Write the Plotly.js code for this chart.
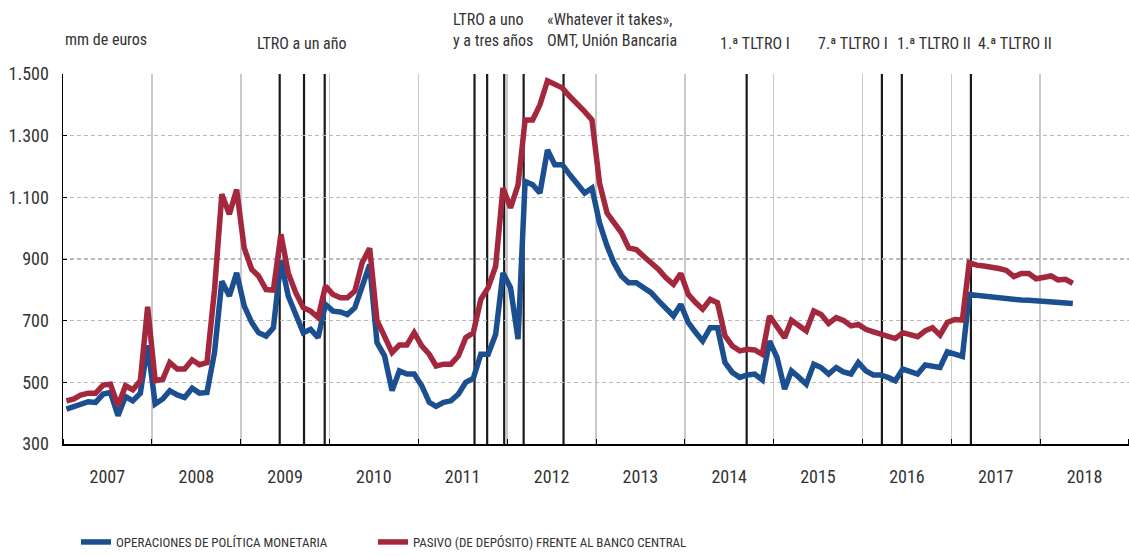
<!DOCTYPE html>
<html>
<head>
<meta charset="utf-8">
<script src="https://cdn.plot.ly/plotly-3.0.1.min.js"></script>
<style>html,body{margin:0;padding:0;background:#fff;}#chart{width:1129px;height:557px;}</style>
</head>
<body>
<div id="chart"></div>
<script>
// Monthly data, January 2007 – May 2018 (mm de euros)
const startYear = 2007;
const nMonths = 137;
const years = [2007, 2008, 2009, 2010, 2011, 2012, 2013, 2014, 2015, 2016, 2017, 2018];

const operacionesPolitica = [
  413, 422, 432, 437, 435, 462, 467, 392, 454, 440, 465, 620,
  430, 446, 473, 459, 451, 481, 465, 467, 597, 828, 780, 855,
  748, 694, 661, 650, 677, 895, 780, 715, 661, 672, 645, 753,
  731, 728, 720, 742, 812, 882, 629, 586, 473, 537, 527, 527,
  489, 435, 422, 435, 440, 462, 500, 513, 591, 591, 656, 855,
  807, 640, 1152, 1141, 1114, 1254, 1206, 1206, 1173, 1141, 1114, 1130,
  1017, 942, 888, 845, 823, 823, 807, 791, 764, 737, 715, 753,
  694, 661, 634, 677, 677, 564, 532, 516, 524, 527, 508, 634,
  580, 478, 537, 516, 494, 559, 548, 527, 548, 534, 527, 564,
  537, 524, 524, 516, 505, 543, 534, 527, 556, 554, 548, 599,
  591, 584, 785, 782, 780, 778, 776, 771, 767, 767, 766, 764,
  761, 760, 760, 758, 756
];

const pasivoDeposito = [
  440, 446, 459, 465, 465, 491, 494, 424, 489, 476, 505, 745,
  505, 510, 564, 543, 543, 573, 557, 564, 800, 1110, 1045, 1125,
  936, 866, 845, 801, 799, 980, 855, 791, 742, 731, 710, 812,
  785, 774, 774, 796, 888, 935, 701, 651, 597, 621, 621, 661,
  618, 591, 553, 559, 559, 586, 645, 661, 769, 807, 877, 1130,
  1066, 1140, 1351, 1351, 1400, 1478, 1465, 1455, 1427, 1405, 1378, 1351,
  1146, 1049, 1017, 985, 936, 931, 909, 888, 866, 839, 818, 853,
  785, 758, 737, 769, 758, 651, 618, 602, 607, 605, 591, 715,
  683, 645, 701, 683, 667, 731, 720, 691, 710, 701, 683, 688,
  672, 664, 656, 651, 642, 661, 656, 648, 667, 677, 653, 694,
  704, 702, 888, 880, 877, 874, 869, 863, 843, 853, 853, 836,
  839, 845, 832, 834, 821
];

const eventDates = [
  '2009-06-10', '2009-09-18', '2009-12-12',
  '2011-08-20', '2011-10-11', '2011-12-20', '2012-03-09',
  '2012-08-20',
  '2014-09-12',
  '2016-03-21', '2016-06-11', '2017-03-22'
];

const seriesNames = ['OPERACIONES DE POLÍTICA MONETARIA', 'PASIVO (DE DEPÓSITO) FRENTE AL BANCO CENTRAL'];

// month axis (mid-month dates)
const months = [];
for (let i = 0; i < nMonths; i++) {
  const y = startYear + Math.floor(i / 12);
  const m = (i % 12) + 1;
  months.push(y + '-' + String(m).padStart(2, '0') + '-15');
}

const FONT = '"Liberation Sans Narrow", "Arial Narrow", "Roboto Condensed", "Liberation Sans", Arial, sans-serif';
const TXT = '#333333';

const traces = [
  {x: months, y: operacionesPolitica, name: seriesNames[0], type: 'scatter', mode: 'lines',
   legend: 'legend', line: {color: '#1c4f8f', width: 5.5, shape: 'linear'}},
  {x: months, y: pasivoDeposito, name: seriesNames[1], type: 'scatter', mode: 'lines',
   legend: 'legend2', line: {color: '#a3283e', width: 5.5, shape: 'linear'}}
];

const shapes = eventDates.map(d => ({
  type: 'line', xref: 'x', yref: 'paper', x0: d, x1: d, y0: 0, y1: 1,
  line: {color: '#1a1a1a', width: 2.2}, layer: 'below'
}));

const px = p => (p - 63) / 1066;
const py = p => (445 - p) / 371;
const ann = (text, x, y, xanchor) => ({
  text: text, xref: 'paper', yref: 'paper', x: px(x), y: py(y), xanchor: xanchor || 'center', yanchor: 'middle',
  showarrow: false, font: {family: FONT, size: 16, color: TXT}, align: 'left'
});

const annotations = [
  ann('mm de euros', 63, 39, 'left'),
  ann('LTRO a un año', 302, 43),
  ann('LTRO a uno<br>y a tres años', 493, 30),
  ann('«Whatever it takes»,<br>OMT, Unión Bancaria', 545, 30, 'left'),
  ann('1.ª TLTRO I', 755, 43),
  ann('7.ª TLTRO I', 853, 43),
  ann('1.ª TLTRO II', 934, 43),
  ann('4.ª TLTRO II', 1015, 43)
];

const legendBase = {orientation: 'h', xanchor: 'left', yanchor: 'middle', y: py(543),
  font: {family: FONT, size: 13, color: TXT}, bgcolor: 'rgba(0,0,0,0)', itemclick: false};

const layout = {
  width: 1129, height: 557,
  margin: {l: 63, r: 0, t: 74, b: 112},
  paper_bgcolor: '#ffffff', plot_bgcolor: '#ffffff',
  separators: ',.',
  font: {family: FONT, color: TXT, size: 16},
  showlegend: true,
  legend: Object.assign({}, legendBase, {x: px(76)}),
  legend2: Object.assign({}, legendBase, {x: px(373)}),
  xaxis: {
    type: 'date', range: ['2007-01-01', '2019-01-01'],
    tickvals: years.map(y => y + '-07-02'), ticktext: years.map(String),
    ticks: '', showgrid: false, ticklabelstandoff: 16,
    tickfont: {family: FONT, size: 18, color: TXT},
    showline: true, linecolor: '#000', linewidth: 1.5, zeroline: false,
    minor: {dtick: 'M12', tick0: '2007-01-01', showgrid: true, gridcolor: '#c9c9c9', gridwidth: 1.5,
            ticks: 'inside', ticklen: 5, tickcolor: '#000', tickwidth: 1.2}
  },
  yaxis: {
    range: [300, 1500], tickvals: [300, 500, 700, 900, 1100, 1300, 1500], tickformat: ',d',
    showgrid: true, gridcolor: '#b8b8b8', gridwidth: 1.5, griddash: '4px,3px',
    ticks: 'inside', ticklen: 4, tickcolor: '#000', ticklabelstandoff: 9,
    tickfont: {family: FONT, size: 18, color: TXT},
    showline: true, linecolor: '#000', linewidth: 1.5, zeroline: false
  },
  shapes: shapes,
  annotations: annotations
};

Plotly.newPlot('chart', traces, layout, {displayModeBar: false, staticPlot: true});
</script>
</body>
</html>
